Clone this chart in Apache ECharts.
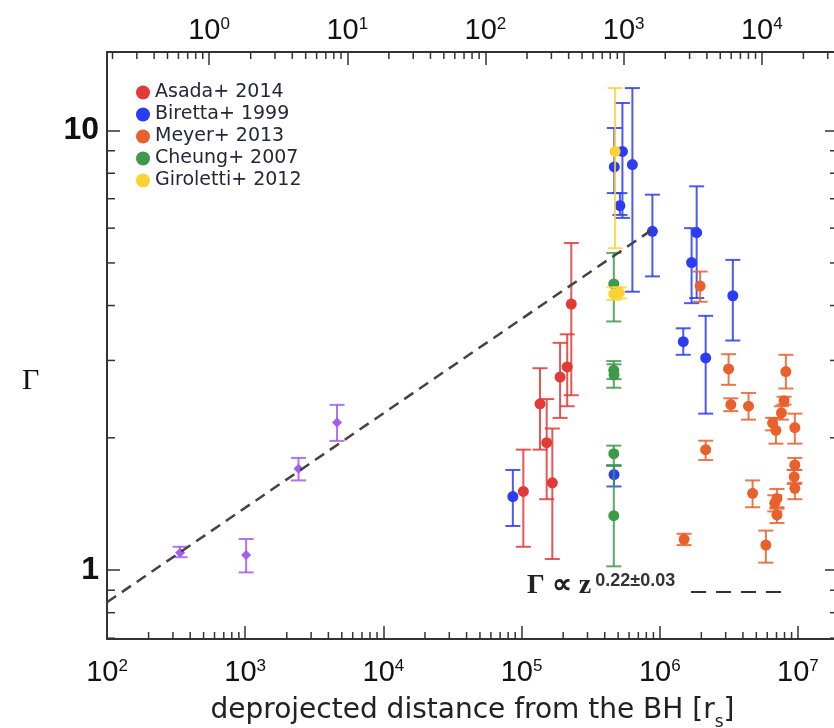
<!DOCTYPE html>
<html><head><meta charset="utf-8">
<script src="https://cdn.jsdelivr.net/npm/echarts@6/dist/echarts.min.js"></script>
<style>html,body{margin:0;padding:0;background:#fff}#c{width:834px;height:728px}</style>
</head><body><div id="c"></div>
<script>
// ---- data: [distance (r_s), Gamma, lower, upper] ----
const asada = [
  [1.03e5, 1.51, 1.13, 1.88],
  [1.36e5, 2.39, 1.88, 2.88],
  [1.52e5, 1.95, 1.45, 2.45],
  [1.67e5, 1.58, 1.06, 2.10],
  [1.90e5, 2.75, 2.22, 3.29],
  [2.14e5, 2.90, 2.36, 3.44],
  [2.29e5, 4.03, 2.50, 5.55]
];
const biretta = [
  [8.65e4, 1.47, 1.26, 1.69],
  [4.67e5, 1.65, 1.55, 1.73],
  [4.69e5, 8.27, 7.21, 10.14],
  [5.37e5, 8.97, 6.33, 11.56],
  [6.34e5, 8.37, 4.30, 12.5],
  [5.15e5, 6.75, 6.43, 7.21],
  [8.85e5, 5.90, 4.66, 7.15],
  [1.70e6, 5.01, 4.05, 6.00],
  [1.85e6, 5.86, 4.16, 7.47],
  [3.38e6, 4.21, 3.33, 5.08],
  [1.48e6, 3.31, 3.09, 3.55],
  [2.15e6, 3.04, 2.27, 3.79]
];
const meyer = [
  [1.96e6, 4.43, 4.08, 4.78],
  [3.15e6, 2.87, 2.64, 3.10],
  [8.18e6, 2.83, 2.59, 3.09],
  [3.27e6, 2.38, 2.30, 2.46],
  [4.39e6, 2.36, 2.20, 2.53],
  [7.94e6, 2.43, 2.38, 2.48],
  [7.60e6, 2.28, 2.20, 2.36],
  [6.56e6, 2.16, 2.08, 2.22],
  [6.93e6, 2.08, 1.94, 2.22],
  [9.50e6, 2.11, 1.94, 2.27],
  [2.15e6, 1.88, 1.78, 1.97],
  [9.50e6, 1.735, 1.69, 1.80],
  [9.40e6, 1.63, 1.57, 1.69],
  [9.50e6, 1.535, 1.45, 1.58],
  [4.70e6, 1.495, 1.39, 1.60],
  [7.05e6, 1.456, 1.39, 1.53],
  [6.80e6, 1.42, 1.36, 1.48],
  [7.05e6, 1.335, 1.28, 1.38],
  [5.86e6, 1.14, 1.04, 1.23],
  [1.50e6, 1.175, 1.14, 1.21]
];
const cheung = [
  [4.65e5, 4.48, 3.68, 5.27],
  [4.65e5, 2.85, 2.60, 2.99],
  [4.67e5, 2.78, 2.72, 2.94],
  [4.65e5, 1.84, 1.73, 1.92],
  [4.65e5, 1.33, 1.02, 1.73]
];
const giroletti = [
  [4.75e5, 8.97, 5.40, 12.5],
  [4.65e5, 4.25, 4.12, 4.40],
  [5.10e5, 4.28, 4.15, 4.40]
];
const inner = [
  [338, 1.095, 1.07, 1.13],
  [1016, 1.083, 0.988, 1.177],
  [2432, 1.70, 1.60, 1.80],
  [4616, 2.166, 1.968, 2.377]
];
const fitLine = [[100, 0.845], [9.5e5, 6.05]];
const seriesNames = ['Asada+ 2014', 'Biretta+ 1999', 'Meyer+ 2013', 'Cheung+ 2007', 'Giroletti+ 2012'];
const bottomDecades = [1e2, 1e3, 1e4, 1e5, 1e6, 1e7];
const topDecades = [0.1, 1, 10, 100, 1000, 10000];
const yDecades = [0.1, 1, 10];
const minorMult = [2, 3, 4, 5, 6, 7, 8, 9];

// axis ranges
const X_MIN = 100, X_MAX = 1.95e7, Y_MIN = 0.697, Y_MAX = 15.1;
const TOP_FACTOR = 548; // r_s per top-axis unit

const COLORS = {
  asada: '#e23a36', biretta: '#2b3cf6', meyer: '#e8602c',
  cheung: '#3d9a4a', giroletti: '#fbd234', inner: '#a45cf2'
};

function isPow10(v) {
  const l = Math.log10(v);
  return Math.abs(l - Math.round(l)) < 1e-6;
}
function fmtSup(v) {
  if (!isPow10(v)) return '';
  return '{b|10}{s|' + Math.round(Math.log10(v)) + '}';
}
const supRich = {
  b: { fontSize: 29, fontFamily: 'Liberation Sans', color: '#111' },
  s: { fontSize: 17, fontFamily: 'Liberation Sans', color: '#111', verticalAlign: 'top' }
};

function errSeries(name, data, color, shape) {
  return {
    type: 'custom', name: name, coordinateSystem: 'cartesian2d',
    xAxisIndex: 0, yAxisIndex: 0,
    data: data, encode: { x: 0, y: 1 },
    itemStyle: { color: color },
    silent: true,
    renderItem: function (params, api) {
      const x = api.value(0), y = api.value(1), lo = api.value(2), hi = api.value(3);
      const p = api.coord([x, y]), pl = api.coord([x, lo]), ph = api.coord([x, hi]);
      const cw = 7.5;
      const st = { stroke: color, lineWidth: 2, opacity: 0.85 };
      const ch = [
        { type: 'line', shape: { x1: pl[0], y1: pl[1], x2: ph[0], y2: ph[1] }, style: st },
        { type: 'line', shape: { x1: pl[0] - cw, y1: pl[1], x2: pl[0] + cw, y2: pl[1] }, style: st },
        { type: 'line', shape: { x1: ph[0] - cw, y1: ph[1], x2: ph[0] + cw, y2: ph[1] }, style: st }
      ];
      if (shape === 'diamond') {
        const r = 5;
        ch.push({ type: 'polygon', shape: { points: [[p[0], p[1] - r], [p[0] + r, p[1]], [p[0], p[1] + r], [p[0] - r, p[1]]] }, style: { fill: color } });
      } else {
        ch.push({ type: 'circle', shape: { cx: p[0], cy: p[1], r: 5.5 }, style: { fill: color } });
      }
      return { type: 'group', children: ch };
    }
  };
}

// minor tick rows: [x, y, kind]
const tickRows = [];
bottomDecades.forEach(d => minorMult.forEach(m => { const v = d * m; if (v > X_MIN && v < X_MAX) tickRows.push([v, 1, 0]); }));
topDecades.forEach(d => minorMult.forEach(m => { const v = d * m; if (v * TOP_FACTOR > X_MIN && v * TOP_FACTOR < X_MAX) tickRows.push([v, 1, 1]); }));
yDecades.forEach(d => minorMult.forEach(m => { const v = d * m; if (v > Y_MIN && v < Y_MAX) tickRows.push([1000, v, 2]); }));

const AX = '#333';
const chart = echarts.init(document.getElementById('c'), null, { renderer: 'canvas' });
chart.setOption({
  backgroundColor: '#fff',
  animation: false,
  grid: { left: 107, top: 52, width: 731, height: 587, outerBoundsMode: 'none', containLabel: false },
  legend: {
    data: seriesNames, orient: 'vertical', left: 136, top: 83,
    icon: 'circle', itemWidth: 14, itemHeight: 14, itemGap: 3, padding: 0,
    textStyle: { fontSize: 19, fontFamily: 'DejaVu Sans', color: '#26263a' },
    selectedMode: false
  },
  xAxis: [
    {
      type: 'log', position: 'bottom', min: X_MIN, max: X_MAX,
      axisLine: { lineStyle: { color: AX, width: 2 } },
      axisTick: { inside: true, length: 13, lineStyle: { color: AX, width: 1.5 } },
      splitLine: { show: false },
      axisLabel: { interval: 0, margin: 19, formatter: fmtSup, rich: supRich },
      name: 'deprojected distance from the BH [r{sub|s}]', nameLocation: 'middle', nameGap: 58,
      nameTextStyle: { fontSize: 28, fontFamily: 'DejaVu Sans', color: '#222',
        rich: { sub: { fontSize: 17, fontFamily: 'DejaVu Sans', color: '#222', verticalAlign: 'bottom', padding: [0, 0, -6, 0] } } }
    },
    {
      type: 'log', position: 'top', min: X_MIN / TOP_FACTOR, max: X_MAX / TOP_FACTOR,
      axisLine: { lineStyle: { color: AX, width: 2 } },
      axisTick: { inside: true, length: 13, lineStyle: { color: AX, width: 1.5 } },
      splitLine: { show: false },
      axisLabel: { interval: 0, margin: 7, formatter: fmtSup, rich: supRich }
    }
  ],
  yAxis: [
    {
      type: 'log', position: 'left', min: Y_MIN, max: Y_MAX,
      axisLine: { lineStyle: { color: AX, width: 2 } },
      axisTick: { inside: true, length: 13, lineStyle: { color: AX, width: 1.5 } },
      splitLine: { show: false },
      axisLabel: { interval: 0, margin: 8, fontSize: 32, fontWeight: 'bold', fontFamily: 'Liberation Sans', color: '#111',
        formatter: v => isPow10(v) ? String(Math.round(v)) : '' }
    },
    {
      type: 'log', position: 'right', min: Y_MIN, max: Y_MAX,
      axisLine: { lineStyle: { color: AX, width: 2 } },
      axisTick: { inside: true, length: 13, lineStyle: { color: AX, width: 1.5 } },
      splitLine: { show: false },
      axisLabel: { show: false }
    }
  ],
  series: [
    {
      type: 'custom', name: 'minorTicks', coordinateSystem: 'cartesian2d', silent: true,
      data: tickRows, encode: { x: 0, y: 1 },
      renderItem: function (params, api) {
        const cs = params.coordSys; const kind = api.value(2);
        const st = { stroke: AX, lineWidth: 1.5 }; const L = 7;
        if (kind === 0) {
          const x = api.coord([api.value(0), 1])[0]; const yb = cs.y + cs.height;
          return { type: 'line', shape: { x1: x, y1: yb, x2: x, y2: yb - L }, style: st };
        } else if (kind === 1) {
          const x = api.coord([api.value(0) * TOP_FACTOR, 1])[0];
          return { type: 'line', shape: { x1: x, y1: cs.y, x2: x, y2: cs.y + L }, style: st };
        }
        const y = api.coord([1000, api.value(1)])[1];
        return { type: 'group', children: [
          { type: 'line', shape: { x1: cs.x, y1: y, x2: cs.x + L + 1, y2: y }, style: st },
          { type: 'line', shape: { x1: cs.x + cs.width, y1: y, x2: cs.x + cs.width - L - 1, y2: y }, style: st }
        ] };
      }
    },
    errSeries(seriesNames[0], asada, COLORS.asada),
    errSeries(seriesNames[1], biretta, COLORS.biretta),
    errSeries(seriesNames[2], meyer, COLORS.meyer),
    errSeries(seriesNames[3], cheung, COLORS.cheung),
    errSeries(seriesNames[4], giroletti, COLORS.giroletti),
    errSeries('inner', inner, COLORS.inner, 'diamond'),
    {
      type: 'line', name: 'fit', data: fitLine, showSymbol: false, silent: true,
      lineStyle: { color: '#444', width: 2.5, type: [11, 7] }
    }
  ],
  graphic: [
    { type: 'text', left: 22, top: 366, style: { text: 'Γ', fontSize: 30, fontFamily: 'Liberation Serif', fill: '#111' } },
    { type: 'text', left: 527, top: 572, style: {
        text: '{g|Γ ∝ z}{s|0.22±0.03}',
        rich: {
          g: { fontSize: 28, fontFamily: 'Liberation Serif', fontWeight: 'bold', fill: '#222', verticalAlign: 'bottom' },
          s: { fontSize: 18, fontFamily: 'Liberation Sans', fontWeight: 'bold', fill: '#333', verticalAlign: 'top', padding: [0, 0, 0, 4] }
        } } },
    { type: 'line', shape: { x1: 691, y1: 592, x2: 786, y2: 592 }, style: { stroke: '#333', lineWidth: 2, lineDash: [15, 10] } }
  ]
});
</script></body></html>
